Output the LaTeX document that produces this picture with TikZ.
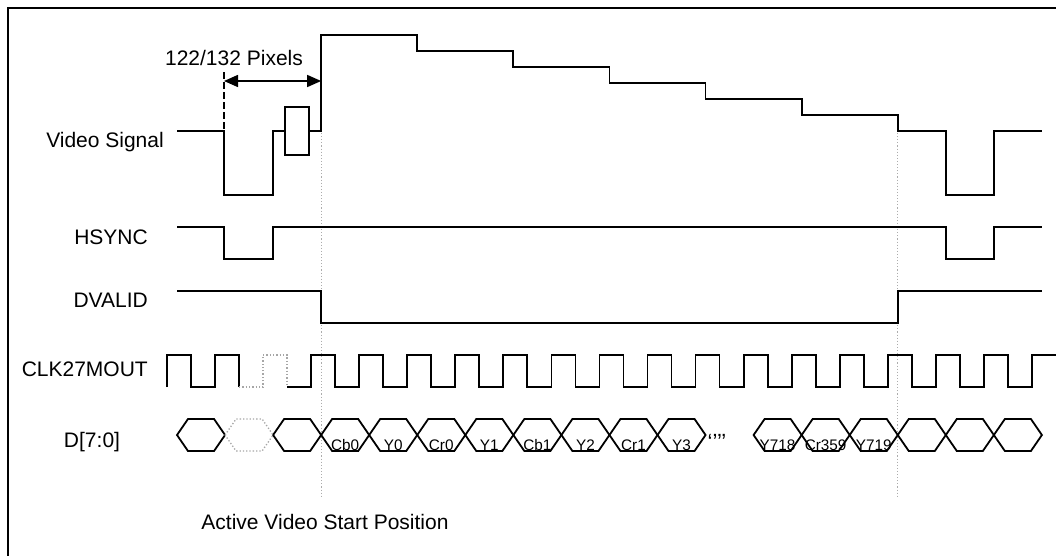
\documentclass[tikz,border=0pt]{standalone}
\usepackage{fontspec}
\setmainfont{Liberation Sans}
\usetikzlibrary{arrows.meta}
\begin{document}
\begin{tikzpicture}[x=1pt,y=-1pt,
  sig/.style={line width=1.8pt, line join=miter},
  ghost/.style={line width=1.3pt, dotted, gray!70},
  guide/.style={line width=1.1pt, dotted, gray!65},
  lbl/.style={inner sep=0pt, font=\fontsize{21}{25}\selectfont},
  dlbl/.style={inner sep=0pt, font=\fontsize{15.3}{18}\selectfont, anchor=base},
]
\def\P{48.05}
\useasboundingbox (0,0) rectangle (1056,555);
\clip (0,0) rectangle (1056,555);
\draw[line width=1.2pt] (8,8) rectangle (1090,590);

% labels
\node[lbl, anchor=base east] (lvid) at (164,147) {Video Signal};
\node[lbl, anchor=base east] (lhs) at (148,244) {HSYNC};
\node[lbl, anchor=base east] (ldv) at (148,307) {DVALID};
\node[lbl, anchor=base east] (lclk) at (148,376) {CLK27MOUT};
\node[lbl, anchor=base] (ld) at (92,447) {D[7:0]};
\node[lbl] (lpix) at (234,58) {122/132 Pixels};
\node[lbl] (lact) at (325,522) {Active Video Start Position};

% guide lines
\draw[guide] ({177+3*\P},133) -- ({177+3*\P},497);
\draw[guide] ({177+15*\P},133) -- ({177+15*\P},497);

% video signal
\draw[sig] (177,131) -- (224,131) -- (224,195) -- (273,195) -- (273,131) -- (285,131);
\draw[sig] (285,107) rectangle (309,155);
\draw[sig] (309,131) -- ({177+3*\P},131) -- ({177+3*\P},35) -- ({177+5*\P},35)
  -- ({177+5*\P},51) -- ({177+7*\P},51) -- ({177+7*\P},67) -- ({177+9*\P},67)
  -- ({177+9*\P},83) -- ({177+11*\P},83) -- ({177+11*\P},99) -- ({177+13*\P},99)
  -- ({177+13*\P},115) -- ({177+15*\P},115) -- ({177+15*\P},131) -- ({177+16*\P},131)
  -- ({177+16*\P},195) -- ({177+17*\P},195) -- ({177+17*\P},131) -- ({177+18*\P},131);
\draw[line width=1.5pt, dash pattern=on 7pt off 3pt] (224,72) -- (224,131);
\draw[line width=1.5pt, {Triangle[length=14pt,width=12pt]}-{Triangle[length=14pt,width=12pt]}]
  (224,81) -- ({177+3*\P},81);

% HSYNC
\draw[sig] (177,227) -- (224,227) -- (224,259) -- (273,259) -- (273,227)
  -- ({177+16*\P},227) -- ({177+16*\P},259) -- ({177+17*\P},259) -- ({177+17*\P},227) -- ({177+18*\P},227);

% DVALID
\draw[sig] (177,291) -- ({177+3*\P},291) -- ({177+3*\P},323) -- ({177+15*\P},323)
  -- ({177+15*\P},291) -- ({177+18*\P},291);

% clock
\draw[sig] (167,387) -- (167,355) -- (191,355) -- (191,387) -- ({167+\P},387)
  -- ({167+\P},355) -- ({191+\P},355) -- ({191+\P},387);
\draw[ghost] ({191+\P},387) -- ({167+2*\P},387) -- ({167+2*\P},355) -- ({191+2*\P},355) -- ({191+2*\P},387);
\draw[sig] ({191+2*\P},387) foreach \k in {3,...,17} { -- ({167+\k*\P},387) -- ++(0,-32) -- ++(24,0) -- ++(0,32) }
  -- ({167+18*\P},387) -- ++(0,-32) -- (1056,355);

% data
\foreach \k in {0,2,3,4,5,6,7,8,9,10,12,13,14,15,16,17}
  \draw[sig] ({177+\k*\P},435) -- ++(11,-16) -- ++(26.05,0) -- ++(11,16) -- ++(-11,16) -- ++(-26.05,0) -- cycle;
\draw[ghost] ({177+\P},435) -- ++(11,-16) -- ++(26.05,0) -- ++(11,16) -- ++(-11,16) -- ++(-26.05,0) -- cycle;
\foreach \k/\t in {3/Cb0,4/Y0,5/Cr0,6/Y1,7/Cb1,8/Y2,9/Cr1,10/Y3,12/Y718,13/Cr359,14/Y719}
  \node[dlbl] (d\k) at ({177+\k*\P+24},450) {\t};
\node[dlbl, font=\fontsize{22}{24}\selectfont] (dots) at (717,449) {‘’’’};
\end{tikzpicture}
\end{document}
